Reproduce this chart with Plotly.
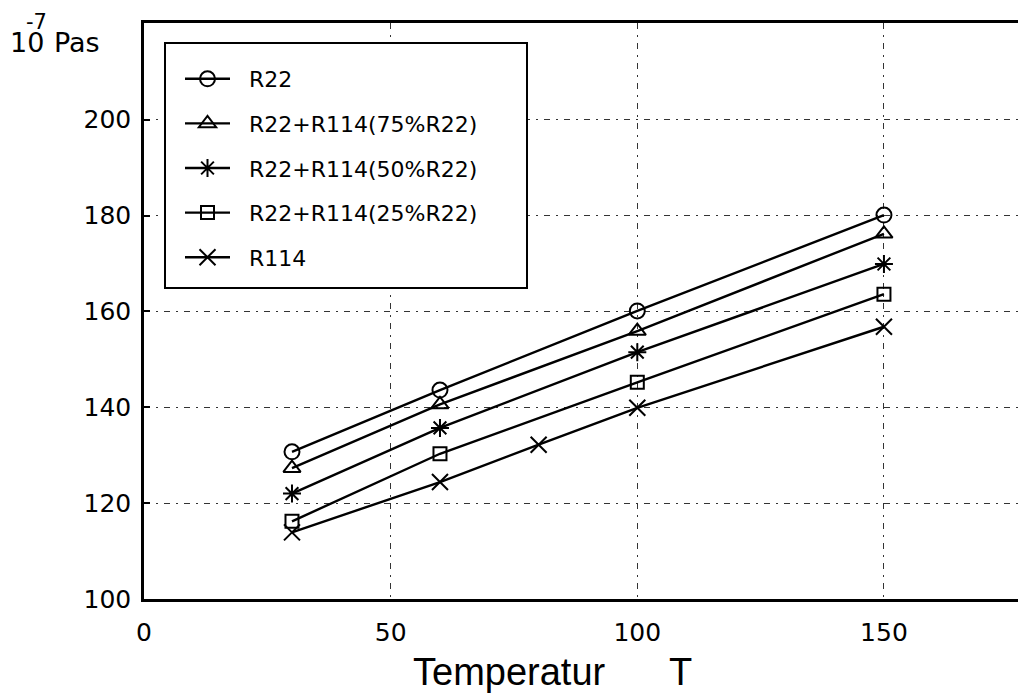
import plotly.graph_objects as go

# ---- data ----
T = [30, 60, 100, 150]
r22 = [130.7, 143.6, 160.1, 180.1]
r22_75 = [127.3, 140.6, 155.9, 176.2]
r22_50 = [122.0, 135.7, 151.5, 169.9]
r22_25 = [116.2, 130.3, 145.2, 163.6]
T_r114 = [30, 60, 80, 100, 150]
r114 = [113.9, 124.4, 132.2, 139.9, 156.8]

names = ["R22", "R22+R114(75%R22)", "R22+R114(50%R22)", "R22+R114(25%R22)", "R114"]
xs = [T, T, T, T, T_r114]
ys = [r22, r22_75, r22_50, r22_25, r114]
symbols = ["circle-open", "triangle-up-open", "asterisk-open", "square-open", "x-thin-open"]
sizes = [15, 15, 15, 13, 16]

x_ticks = [0, 50, 100, 150]
y_ticks = [100, 120, 140, 160, 180, 200]

# page has an 8px body margin; the figure is sized to fill the rest
OFF = 8
W, H = 1026 - OFF, 698 - OFF
ML, MT = 144 - OFF, 23 - OFF
MB = H - (599 - OFF)
MR = 0
PW, PH = W - ML - MR, H - MT - MB

def fx(page_x):
    return (page_x - OFF - ML) / PW

def fy(page_y):
    return 1 - (page_y - OFF - MT) / PH

PAD = "\u00a0\u00a0"

fig = go.Figure()
for i in range(5):
    fig.add_trace(go.Scatter(
        x=xs[i], y=ys[i], name=PAD + names[i], mode="lines+markers",
        legendgroup=f"g{i}",
        line=dict(color="black", width=2.4),
        marker=dict(symbol=symbols[i], size=sizes[i], color="black",
                    line=dict(color="black", width=2)),
    ))

grid_dash = "6px,6px,2px,6px"
fig.update_layout(
    width=W, height=H,
    margin=dict(l=ML, r=MR, t=MT, b=MB),
    plot_bgcolor="white", paper_bgcolor="white",
    font=dict(family="DejaVu Sans", color="black"),
    showlegend=True,
    legend=dict(
        x=fx(180), y=fy(58), xanchor="left", yanchor="top",
        bgcolor="rgba(0,0,0,0)", borderwidth=0,
        font=dict(family="DejaVu Sans", size=22, color="black"),
        tracegroupgap=13, itemwidth=45,
    ),
    xaxis=dict(
        range=[0, PW / 4.933], tickvals=x_ticks,
        showline=True, linecolor="black", linewidth=2.5, mirror=True,
        showgrid=True, gridcolor="#333333", gridwidth=1, griddash=grid_dash,
        zeroline=False, ticks="", ticklabelstandoff=9,
        tickfont=dict(family="DejaVu Sans", size=25, color="black"),
    ),
    yaxis=dict(
        range=[100, 100 + PH / 4.793], tickvals=y_ticks,
        showline=True, linecolor="black", linewidth=2.5, mirror=False,
        showgrid=True, gridcolor="#333333", gridwidth=1, griddash=grid_dash,
        zeroline=False, ticks="inside", ticklen=6, tickcolor="black", tickwidth=2,
        ticklabelstandoff=5,
        tickfont=dict(family="DejaVu Sans", size=25, color="black"),
    ),
    shapes=[dict(
        type="rect", xref="paper", yref="paper",
        x0=fx(165), x1=fx(527), y0=fy(288), y1=fy(43),
        line=dict(color="black", width=2), fillcolor="white", layer="above",
    )],
    annotations=[
        dict(text="10", xref="paper", yref="paper", x=fx(8), y=fy(43),
             xanchor="left", yanchor="middle", showarrow=False,
             font=dict(family="DejaVu Sans", size=27, color="black")),
        dict(text="Pas", xref="paper", yref="paper", x=fx(52), y=fy(43),
             xanchor="left", yanchor="middle", showarrow=False,
             font=dict(family="DejaVu Sans", size=27, color="black")),
        dict(text="-7", xref="paper", yref="paper", x=fx(24), y=fy(22),
             xanchor="left", yanchor="middle", showarrow=False,
             font=dict(family="DejaVu Sans", size=21, color="black")),
        dict(text="Temperatur", xref="paper", yref="paper", x=fx(411), y=fy(672),
             xanchor="left", yanchor="middle", showarrow=False,
             font=dict(family="Liberation Sans", size=38, color="black")),
        dict(text="T", xref="paper", yref="paper", x=fx(680), y=fy(672),
             xanchor="center", yanchor="middle", showarrow=False,
             font=dict(family="Liberation Sans", size=38, color="black")),
    ],
)

fig.write_html("out.html")
